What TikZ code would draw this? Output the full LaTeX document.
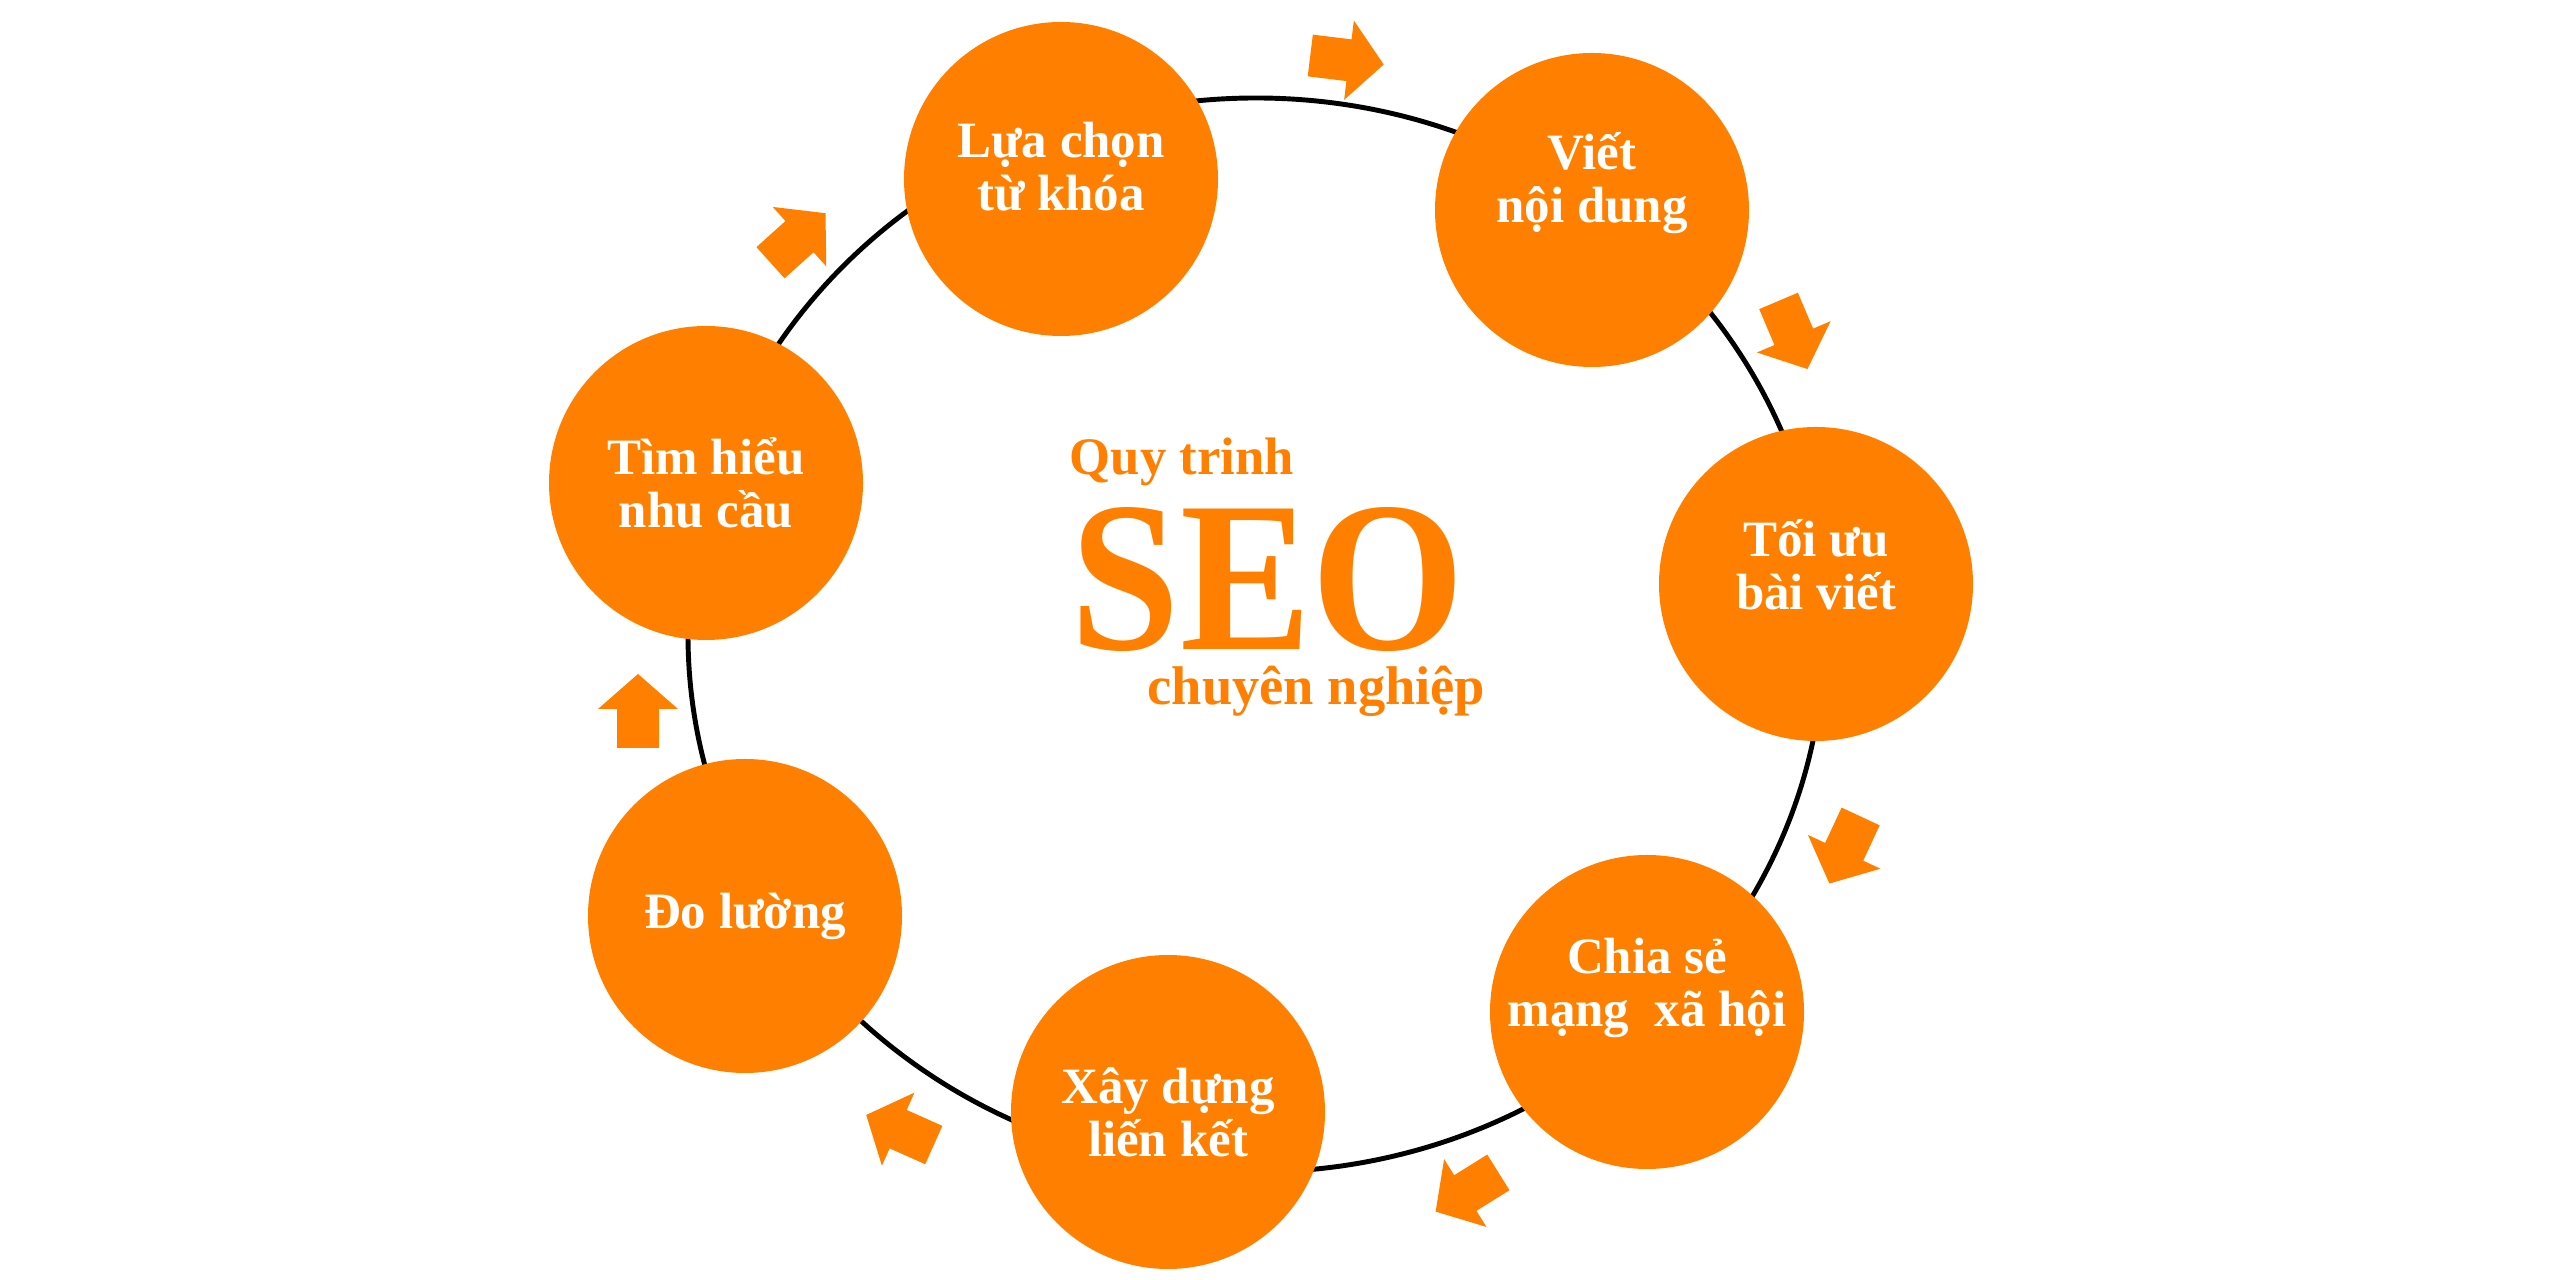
\documentclass[tikz,border=0pt]{standalone}
\usepackage{fontspec}
\setmainfont{Liberation Serif}
\usetikzlibrary{calc}
\definecolor{seoorange}{RGB}{255,128,0}

\begin{document}
\begin{tikzpicture}[
		seo circle/.style={circle, fill=seoorange, minimum size=3.14cm, inner sep=0pt},
		seo text/.style={text=white, align=center, font=\bfseries\fontsize{14.5}{15}\selectfont},
		title text/.style={text=seoorange, anchor=base west, inner sep=0pt, font=\bfseries\fontsize{15}{17}\selectfont}
	]
	\useasboundingbox (0,0) rectangle (25.6,-12.8);
	\coordinate (hub) at (12.56,-6.35);
	\draw[line width=1.4pt] (hub) ellipse [x radius=5.68, y radius=5.37];
	% the seven steps round the ring
	\foreach \nm/\x/\y/\dy/\txt in {
		lua/10.61/-1.79/0.12/{Lựa chọn\\từ khóa},
		viet/15.92/-2.10/0.27/{Viết\\nội dung},
		toiuu/18.16/-5.84/0.19/{Tối ưu\\bài viết},
		chiase/16.47/-10.12/0.24/{Chia sẻ\\mạng\ \ xã hội},
		xay/11.68/-11.12/0.0/{Xây dựng\\liến kết},
		dolg/7.45/-9.16/0.0/{Đo lường},
		timhieu/7.06/-4.83/0.0/{Tìm hiểu\\nhu cầu}}{
		\node[seo circle] (\nm) at (\x,\y) {};
		\node[seo text] (\nm-txt) at ([yshift=\dy cm]\nm.center) {\txt};
	}
	% block arrows between the steps
	\foreach \x/\y/\a in {13.47/-0.60/-7, 17.93/-3.35/-67, 18.45/-8.50/-115, 14.67/-11.92/-148, 9.00/-11.30/156, 6.38/-7.11/90, 7.98/-2.38/42}{
		\fill[seoorange, shift={(\x,\y)}, rotate=\a] (-0.37,0.21) -- (0.02,0.21) -- (0.02,0.40) -- (0.37,0) -- (0.02,-0.40) -- (0.02,-0.21) -- (-0.37,-0.21) -- cycle;
	}
	\node[title text] (quy) at (10.69,-4.75) {Quy trinh};
	\node[title text, font=\bfseries\fontsize{56}{60}\selectfont, yscale=1.09] (seo) at (10.70,-6.50) {SEO};
	\node[title text, font=\bfseries\fontsize{15.5}{17}\selectfont] (chuyen) at (11.47,-7.05) {chuyên nghiệp};
\end{tikzpicture}
\end{document}
